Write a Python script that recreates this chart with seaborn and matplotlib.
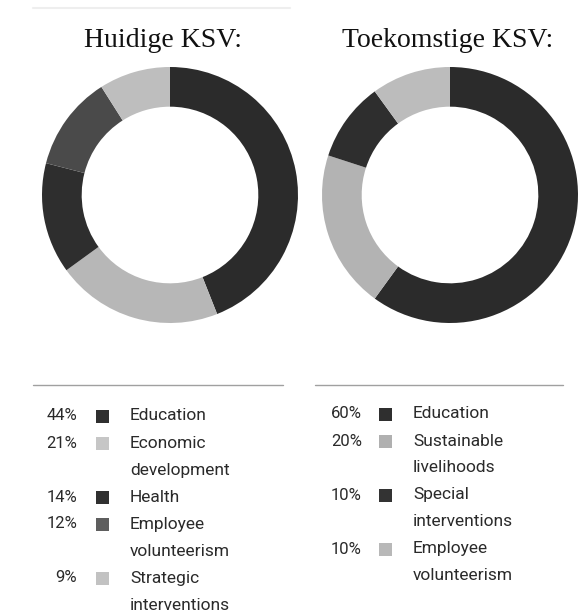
import matplotlib
matplotlib.use("Agg")
import matplotlib.pyplot as plt
import seaborn as sns

# Data
titles = ["Huidige KSV:", "Toekomstige KSV:"]

labels_now = ["Education", "Economic\ndevelopment", "Health",
              "Employee\nvolunteerism", "Strategic\ninterventions"]
pct_now = [44, 21, 14, 12, 9]

labels_future = ["Education", "Sustainable\nlivelihoods",
                 "Special\ninterventions", "Employee\nvolunteerism"]
pct_future = [60, 20, 10, 10]

# Styling
colors_now = ["#2b2b2b", "#b7b7b7", "#2e2e2e", "#4a4a4a", "#bebebe"]
colors_future = ["#2b2b2b", "#b3b3b3", "#2e2e2e", "#bcbcbc"]
legend_now = ["#2f2f2f", "#c6c6c6", "#303030", "#5e5e5e", "#c2c2c2"]
legend_future = ["#2f2f2f", "#b0b0b0", "#333333", "#b8b8b8"]

sns.set_theme(style="white")
plt.rcParams["font.family"] = ["Roboto", "DejaVu Sans"]

W, H = 579, 612
fig = plt.figure(figsize=(W / 100, H / 100), dpi=100)
fig.patch.set_facecolor("white")


def fx(x):
    return x / W


def fy(y):
    return 1 - y / H


def donut(cx, cy, r, values, colors):
    ax = fig.add_axes([fx(cx - r), fy(cy + r), 2 * r / W, 2 * r / H])
    ax.pie(values, colors=colors, startangle=90, counterclock=False,
           wedgeprops=dict(width=0.31, edgecolor="none", linewidth=0))
    ax.set_xlim(-1, 1)
    ax.set_ylim(-1, 1)
    ax.set_aspect("equal")
    ax.axis("off")
    return ax


donut(170, 195, 128, pct_now, colors_now)
donut(450, 195, 128, pct_future, colors_future)

# Titles
for cx, t in zip([163, 448], titles):
    fig.text(fx(cx), fy(47), t, ha="center", va="baseline", fontsize=20,
             family=["Liberation Serif", "DejaVu Serif"], color="#111111")

# faint line at the very top
fig.add_artist(plt.Line2D([fx(33), fx(290)], [fy(8), fy(8)],
                          color="#eeeeee", lw=1.5))

# separator lines above legends
for x0, x1 in [(33, 283), (315, 563)]:
    fig.add_artist(plt.Line2D([fx(x0), fx(x1)], [fy(385), fy(385)],
                              color="#a0a0a0", lw=1))


def legend(labels, pcts, colors, x_pct, x_sq, x_lab, y0, line_h=27):
    row = 0
    for lab, p, c in zip(labels, pcts, colors):
        y = y0 + row * line_h
        fig.text(fx(x_pct), fy(y), f"{p}%", ha="right", va="center",
                 fontsize=12, color="#2a2a2a")
        sq = 13
        fig.add_artist(plt.Rectangle((fx(x_sq), fy(y + sq / 2)), sq / W, sq / H,
                                     transform=fig.transFigure, color=c, lw=0))
        for i, line in enumerate(lab.split("\n")):
            fig.text(fx(x_lab), fy(y + i * line_h), line, ha="left", va="center",
                     fontsize=12.5, color="#2a2a2a")
        row += len(lab.split("\n"))


legend(labels_now, pct_now, legend_now, 77, 96, 130, 416)
legend(labels_future, pct_future, legend_future, 362, 379, 413, 414)

fig.savefig("out.png", dpi=100, facecolor="white")
